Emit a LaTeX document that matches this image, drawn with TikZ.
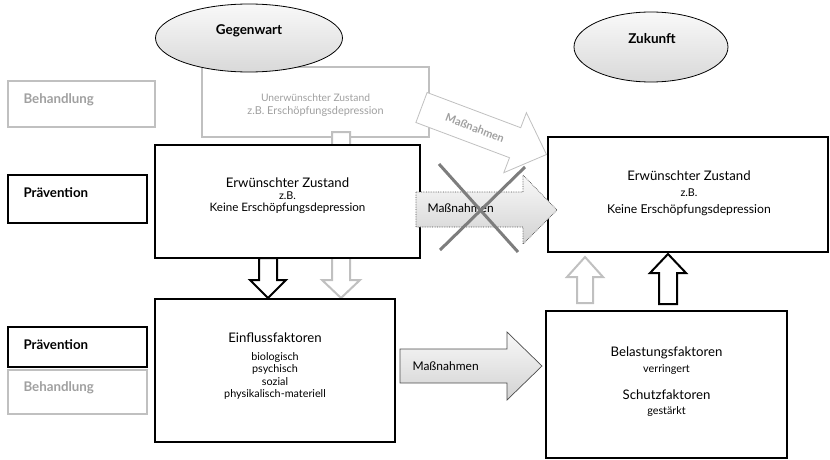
\documentclass[tikz,border=0pt]{standalone}
\usepackage{fontspec}
\setmainfont{Lato}
\usetikzlibrary{shapes.geometric}
\definecolor{boxgray}{RGB}{192,192,192}
\definecolor{txtgray}{RGB}{160,160,160}
\definecolor{xgray}{RGB}{125,125,125}
\begin{document}
\begin{tikzpicture}[x=1pt,y=-1pt,
  blackbox/.style={draw=black,line width=2.2pt,fill=white,inner sep=0pt},
  graybox/.style={draw=boxgray,line width=2.2pt,fill=white,inner sep=0pt},
  sidelabel/.style={anchor=west,font=\bfseries\fontsize{13.3}{15}\selectfont},
  oval/.style={draw=black,line width=0.8pt,ellipse,top color=gray!5,bottom color=gray!30,inner sep=0pt},
  maintext/.style={font=\fontsize{13.2}{15}\selectfont},
  subtext/.style={font=\fontsize{10.8}{12.5}\selectfont},
  keinetext/.style={font=\fontsize{11.6}{14}\selectfont},
  blkarrow/.style={draw=black,line width=2pt,fill=white,line join=miter},
  gryarrow/.style={draw=boxgray,line width=2pt,fill=white,line join=miter},
  massarrow/.style={draw=black!70,line width=0.7pt,top color=gray!5,bottom color=gray!35,line join=miter},
  masstext/.style={anchor=west,font=\fontsize{12}{14}\selectfont}
]
\useasboundingbox (0,0) rectangle (830,460);

% ---- top gray box (Unerwünschter Zustand) ----
\node[graybox,minimum width=227pt,minimum height=70pt] (unerw) at (315.5,102) {};
\node[text=txtgray,font=\fontsize{10.3}{12}\selectfont] (unerwt1) at (315.5,98) {Unerwünschter Zustand};
\node[text=txtgray,font=\fontsize{10.9}{12}\selectfont] (unerwt2) at (315.5,111.5) {z.B. Erschöpfungsdepression};

% gray arrow from gray box down to Einflussfaktoren (mostly hidden)
\draw[gryarrow] (332,132) -- (332,280) -- (322,280) -- (341,298) -- (360,280) -- (350,280) -- (350,132) -- cycle;

% ---- ellipses ----
\node[oval,minimum width=187pt,minimum height=68pt] (gegen) at (249,38) {};
\node[font=\bfseries\fontsize{13.5}{15}\selectfont] (gegent) at (249,31) {Gegenwart};
\node[oval,minimum width=154pt,minimum height=70pt] (zuk) at (651,47) {};
\node[font=\bfseries\fontsize{13.5}{15}\selectfont] (zukt) at (652,39) {Zukunft};

% ---- left labels ----
\node[graybox,minimum width=147pt,minimum height=46pt] (beh1) at (81.5,104) {};
\node[sidelabel,text=txtgray] (beh1t) at (20,100) {Behandlung};
\node[blackbox,minimum width=139pt,minimum height=48pt] (prae1) at (77.5,199) {};
\node[sidelabel] (prae1t) at (20,193) {Prävention};
\node[graybox,minimum width=139pt,minimum height=44pt] (beh2) at (77.5,392) {};
\node[sidelabel,text=txtgray] (beh2t) at (20,388) {Behandlung};
\node[blackbox,minimum width=139pt,minimum height=40pt] (prae2) at (77.5,347) {};
\node[sidelabel] (prae2t) at (20,345) {Prävention};

% ---- left Erwünschter Zustand ----
\node[blackbox,minimum width=265pt,minimum height=113pt] (erw1) at (287.5,201.5) {};
\node[maintext] (erw1a) at (287.5,183) {Erwünschter Zustand};
\node[subtext] (erw1b) at (287.5,196) {z.B.};
\node[keinetext] (erw1c) at (287.5,208) {Keine Erschöpfungsdepression};

% black down arrow
\draw[blkarrow] (259,258) -- (259,280) -- (250,280) -- (268,298) -- (286,280) -- (277,280) -- (277,258) -- cycle;

% ---- Einflussfaktoren ----
\node[blackbox,minimum width=240pt,minimum height=143pt] (einf) at (275,370.5) {};
\node[maintext] (einft) at (275,338) {Einflussfaktoren};
\node[subtext,align=center] (einfs) at (275,376) {biologisch\\psychisch\\sozial\\physikalisch-materiell};

% ---- right Erwünschter Zustand ----
\node[blackbox,minimum width=280pt,minimum height=115pt] (erw2) at (688,194.5) {};
\node[maintext] (erw2a) at (689,176) {Erwünschter Zustand};
\node[subtext] (erw2b) at (689,193) {z.B.};
\node[keinetext,font=\fontsize{12.2}{14}\selectfont] (erw2c) at (689,210) {Keine Erschöpfungsdepression};

% ---- Belastungsfaktoren ----
\node[blackbox,minimum width=241pt,minimum height=147pt] (bel) at (666.5,384.5) {};
\node[maintext] (belt) at (666.5,353) {Belastungsfaktoren};
\node[subtext] (bels) at (666.5,370) {verringert};
\node[maintext] (scht) at (666.5,395) {Schutzfaktoren};
\node[subtext] (schs) at (666.5,412) {gestärkt};

% up arrows
\draw[gryarrow] (577,303) -- (577,277) -- (567,277) -- (585,257) -- (603,277) -- (593,277) -- (593,303) -- cycle;
\draw[blkarrow] (659,304) -- (659,273) -- (650,273) -- (668,254) -- (686,273) -- (677,273) -- (677,304) -- cycle;

% ---- slanted white Maßnahmen arrow ----
\draw[draw=boxgray,line width=0.8pt,fill=white,line join=miter]
  (415.9,122.5) -- (509.5,157.7) -- (503.8,172.7) -- (546.5,154.5) -- (526.4,112.7) -- (520.7,127.7) -- (427.1,92.5) -- cycle;
\node[text=txtgray,font=\bfseries\fontsize{11}{12}\selectfont,rotate=-20.6] (mass0) at (475,128) {Maßnahmen};

% ---- dotted Maßnahmen arrow (crossed out) ----
\draw[massarrow,densely dotted] (416,192) -- (523,192) -- (523,175) -- (557,210) -- (523,244) -- (523,227) -- (416,227) -- cycle;
\node[masstext] (mass1) at (424,208) {Maßnahmen};
\coordinate (xa1) at (439,164);
\coordinate (xa2) at (518,252);
\coordinate (xb1) at (525,167);
\coordinate (xb2) at (440,250);
\draw[xgray,line width=3pt] (xa1) -- (xa2);
\draw[xgray,line width=3pt] (xb1) -- (xb2);

% ---- bottom Maßnahmen arrow ----
\draw[massarrow] (400,349) -- (507,349) -- (507,332) -- (542,366) -- (507,400) -- (507,383) -- (400,383) -- cycle;
\node[masstext] (mass2) at (409,366) {Maßnahmen};
\end{tikzpicture}
\end{document}
